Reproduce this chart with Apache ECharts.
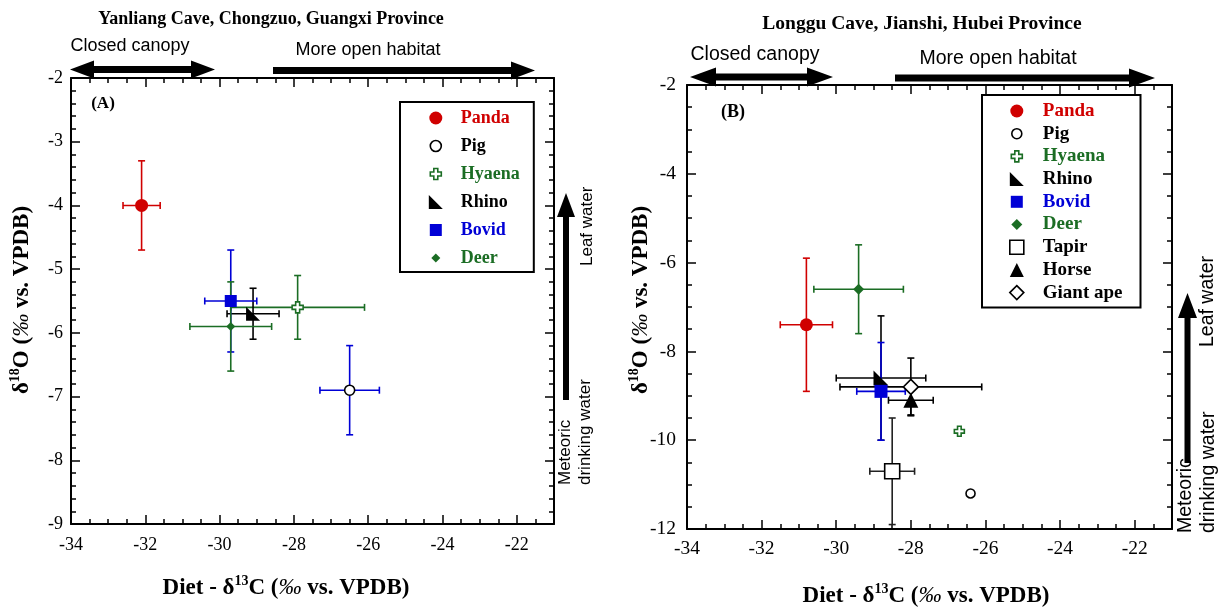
<!DOCTYPE html>
<html>
<head>
<meta charset="utf-8">
<script src="https://cdn.jsdelivr.net/npm/echarts@6/dist/echarts.min.js"></script>
<style>
html, body { margin: 0; padding: 0; background: #fff; }
#chart { width: 1219px; height: 609px; }
</style>
</head>
<body>
<div id="chart"></div>
<script>
// (A) Yanliang Cave
const animalsA = ['Panda', 'Pig', 'Hyaena', 'Rhino', 'Bovid', 'Deer'];
const d13cA = [-32.1, -26.5, -27.9, -29.1, -29.7, -29.7];
const d13cErrA = [0.5, 0.8, 1.8, 0.7, 0.7, 1.1];
const d18oA = [-4.0, -6.9, -5.6, -5.7, -5.5, -5.9];
const d18oErrA = [0.7, 0.7, 0.5, 0.4, 0.8, 0.7];

// (B) Longgu Cave
const animalsB = ['Panda', 'Pig', 'Hyaena', 'Rhino', 'Bovid', 'Deer', 'Tapir', 'Horse', 'Giant ape'];
const d13cB = [-30.8, -26.4, -26.7, -28.8, -28.8, -29.4, -28.5, -28.0, -28.0];
const d13cErrB = [0.7, 0, 0, 1.2, 0.65, 1.2, 0.6, 0.6, 1.9];
const d18oB = [-7.4, -11.2, -9.8, -8.6, -8.9, -6.6, -10.7, -9.1, -8.8];
const d18oErrB = [1.5, 0, 0, 1.4, 1.1, 1.0, 1.2, 0.33, 0.65];

// axis ranges
const xRange = [-34, -21];
const yRangeA = [-9, -2];
const yRangeB = [-12, -2];

const SERIF = '"Liberation Serif", "Times New Roman", serif';
const SANS = '"Liberation Sans", Arial, sans-serif';
const RED = '#d00000', GREEN = '#1b6d24', BLUE = '#0000d6', BLACK = '#000';

const CROSS = 'path://M3.2,0H6.8V3.2H10V6.8H6.8V10H3.2V6.8H0V3.2H3.2Z';
const RTRI = 'path://M0,0L0,10L10,10Z';

// legend icons in a 14x14 box (the two moves keep the box)
function icon(shape, s) {
    const c = 7, h = s / 2;
    let p = '';
    if (shape === 'circle') p = `M${c - h},${c}A${h},${h} 0 1,1 ${c + h},${c}A${h},${h} 0 1,1 ${c - h},${c}Z`;
    if (shape === 'rect') p = `M${c - h},${c - h}H${c + h}V${c + h}H${c - h}Z`;
    if (shape === 'diamond') p = `M${c},${c - h}L${c + h},${c}L${c},${c + h}L${c - h},${c}Z`;
    if (shape === 'triangle') p = `M${c},${c - h}L${c + h},${c + h}L${c - h},${c + h}Z`;
    if (shape === 'rtri') p = `M${c - h},${c - h}L${c - h},${c + h}L${c + h},${c + h}Z`;
    if (shape === 'cross') {
        const a = s * 0.18;
        p = `M${c - a},${c - h}H${c + a}V${c - a}H${c + h}V${c + a}H${c + a}V${c + h}H${c - a}V${c + a}H${c - h}V${c - a}H${c - a}Z`;
    }
    return 'path://M0,0M14,14' + p;
}

const markA = {
    Panda:  { symbol: 'circle', size: 13, fill: RED, stroke: RED, err: RED, text: RED, lg: ['circle', 13] },
    Pig:    { symbol: 'circle', size: 10, fill: '#fff', stroke: BLACK, err: BLUE, text: BLACK, lg: ['circle', 11] },
    Hyaena: { symbol: CROSS, size: 11, fill: '#fff', stroke: GREEN, err: GREEN, text: GREEN, lg: ['cross', 11] },
    Rhino:  { symbol: RTRI, size: 14, fill: BLACK, stroke: BLACK, err: BLACK, text: BLACK, lg: ['rtri', 14] },
    Bovid:  { symbol: 'rect', size: 12, fill: BLUE, stroke: BLUE, err: BLUE, text: BLUE, lg: ['rect', 12] },
    Deer:   { symbol: 'diamond', size: 9, fill: GREEN, stroke: GREEN, err: GREEN, text: GREEN, lg: ['diamond', 9] }
};
const markB = {
    Panda:  { symbol: 'circle', size: 13, fill: RED, stroke: RED, err: RED, text: RED, lg: ['circle', 13] },
    Pig:    { symbol: 'circle', size: 9, fill: '#fff', stroke: BLACK, err: BLACK, text: BLACK, lg: ['circle', 10] },
    Hyaena: { symbol: CROSS, size: 10, fill: '#fff', stroke: GREEN, err: GREEN, text: GREEN, lg: ['cross', 11] },
    Rhino:  { symbol: RTRI, size: 15, fill: BLACK, stroke: BLACK, err: BLACK, text: BLACK, lg: ['rtri', 14] },
    Bovid:  { symbol: 'rect', size: 13, fill: BLUE, stroke: BLUE, err: BLUE, text: BLUE, lg: ['rect', 12] },
    Deer:   { symbol: 'diamond', size: 11, fill: GREEN, stroke: GREEN, err: GREEN, text: GREEN, lg: ['diamond', 11] },
    Tapir:  { symbol: 'rect', size: 15, fill: '#fff', stroke: BLACK, err: '#222', text: BLACK, lg: ['rect', 14] },
    Horse:  { symbol: 'triangle', size: 15, fill: BLACK, stroke: BLACK, err: BLACK, text: BLACK, lg: ['triangle', 14] },
    'Giant ape': { symbol: 'diamond', size: 15, fill: '#fff', stroke: BLACK, err: BLACK, text: BLACK, lg: ['diamond', 14] }
};

const chart = echarts.init(document.getElementById('chart'));

const axisLine = { show: true, onZero: false, lineStyle: { color: BLACK, width: 2 } };
const tickStyle = { color: BLACK, width: 1.5 };

function xAxes(grid, fontSize, margin) {
    const base = { gridIndex: grid, type: 'value', min: xRange[0], max: xRange[1], splitLine: { show: false } };
    const major = { show: true, inside: true, length: 9, lineStyle: tickStyle };
    const minor = { show: true, inside: true, length: 5, lineStyle: tickStyle };
    return [
        { ...base, position: 'bottom', interval: 2, axisLine, axisTick: major,
          axisLabel: { showMaxLabel: false, color: BLACK, fontFamily: SERIF, fontSize, margin } },
        { ...base, position: 'bottom', interval: 0.5, axisLine: { show: false }, axisTick: minor, axisLabel: { show: false } },
        { ...base, position: 'top', interval: 2, axisLine, axisTick: major, axisLabel: { show: false } },
        { ...base, position: 'top', interval: 0.5, axisLine: { show: false }, axisTick: minor, axisLabel: { show: false } }
    ];
}

function yAxes(grid, range, interval, split, fontSize, margin) {
    const base = {
        gridIndex: grid, type: 'value', min: range[0], max: range[1], interval,
        splitLine: { show: false }, axisLine,
        axisTick: { show: true, inside: true, length: 9, lineStyle: tickStyle },
        minorTick: { show: true, splitNumber: split, length: 5, lineStyle: tickStyle }
    };
    return [
        { ...base, position: 'left', axisLabel: { color: BLACK, fontFamily: SERIF, fontSize, margin } },
        { ...base, position: 'right', axisLabel: { show: false } }
    ];
}

function errorBars(name, x, y, ex, ey, color, xi, yi) {
    return {
        type: 'custom', name: name + ' error', xAxisIndex: xi, yAxisIndex: yi,
        data: [[x, y, ex, ey]], encode: { x: 0, y: 1 }, z: 2, silent: true, clip: false,
        renderItem: function (params, api) {
            const vx = api.value(0), vy = api.value(1), vex = api.value(2), vey = api.value(3);
            const st = { stroke: color, lineWidth: 1.6 };
            const cap = 3.5;
            const kids = [];
            if (vex > 0) {
                const l = api.coord([vx - vex, vy]), r = api.coord([vx + vex, vy]);
                kids.push({ type: 'line', shape: { x1: l[0], y1: l[1], x2: r[0], y2: r[1] }, style: st });
                kids.push({ type: 'line', shape: { x1: l[0], y1: l[1] - cap, x2: l[0], y2: l[1] + cap }, style: st });
                kids.push({ type: 'line', shape: { x1: r[0], y1: r[1] - cap, x2: r[0], y2: r[1] + cap }, style: st });
            }
            if (vey > 0) {
                const t = api.coord([vx, vy + vey]), b = api.coord([vx, vy - vey]);
                kids.push({ type: 'line', shape: { x1: t[0], y1: t[1], x2: b[0], y2: b[1] }, style: st });
                kids.push({ type: 'line', shape: { x1: t[0] - cap, y1: t[1], x2: t[0] + cap, y2: t[1] }, style: st });
                kids.push({ type: 'line', shape: { x1: b[0] - cap, y1: b[1], x2: b[0] + cap, y2: b[1] }, style: st });
            }
            return { type: 'group', children: kids };
        }
    };
}

function panelSeries(names, xs, xe, ys, ye, marks, xi, yi) {
    const bars = [], points = [];
    names.forEach((n, i) => {
        const m = marks[n];
        bars.push(errorBars(n, xs[i], ys[i], xe[i], ye[i], m.err, xi, yi));
        points.push({
            type: 'scatter', name: n, xAxisIndex: xi, yAxisIndex: yi, z: 3, silent: true,
            data: [[xs[i], ys[i]]],
            symbol: m.symbol, symbolSize: m.size,
            itemStyle: { color: m.fill, borderColor: m.stroke, borderWidth: m.fill === '#fff' ? 1.6 : 0, opacity: 1 }
        });
    });
    return bars.concat(points);
}

function legendFor(names, marks, left, top, padding, gap, fontSize, textPad) {
    return {
        orient: 'vertical', left, top, padding, itemGap: gap,
        itemWidth: 14, itemHeight: 14, selectedMode: false,
        borderColor: BLACK, borderWidth: 2, backgroundColor: '#fff',
        textStyle: { fontFamily: SERIF, fontWeight: 'bold', fontSize, lineHeight: 20, padding: [0, 0, 0, textPad] },
        data: names.map(n => ({
            name: n,
            icon: icon(marks[n].lg[0], marks[n].lg[1]),
            itemStyle: { color: marks[n].fill, borderColor: marks[n].stroke, borderWidth: marks[n].fill === '#fff' ? 1.6 : 0 },
            textStyle: { color: marks[n].text }
        }))
    };
}

// arrow shapes for the habitat / water annotations
function hArrow(x1, x2, y, both, hl, hw, t) {
    const pts = both
        ? [[x1, y], [x1 + hl, y - hw], [x1 + hl, y - t], [x2 - hl, y - t], [x2 - hl, y - hw], [x2, y],
           [x2 - hl, y + hw], [x2 - hl, y + t], [x1 + hl, y + t], [x1 + hl, y + hw]]
        : [[x1, y - t], [x2 - hl, y - t], [x2 - hl, y - hw], [x2, y], [x2 - hl, y + hw], [x2 - hl, y + t], [x1, y + t]];
    return { type: 'polygon', shape: { points: pts }, style: { fill: BLACK } };
}
function vArrow(x, yb, yt, hl, hw, t) {
    const pts = [[x - t, yb], [x - t, yt + hl], [x - hw, yt + hl], [x, yt], [x + hw, yt + hl], [x + t, yt + hl], [x + t, yb]];
    return { type: 'polygon', shape: { points: pts }, style: { fill: BLACK } };
}
function label(text, x, y, font) {
    return {
        type: 'text', x, y,
        style: { text, font, fill: BLACK, align: 'center', verticalAlign: 'middle',
                 textAlign: 'center', textVerticalAlign: 'middle' }
    };
}
function sideText(text, x, y, size) {
    return {
        type: 'text', x, y, rotation: Math.PI / 2,
        style: { text, fontFamily: SANS, fontSize: size, lineHeight: size + 3, fill: BLACK,
                 align: 'left', verticalAlign: 'middle', textAlign: 'left', textVerticalAlign: 'middle' }
    };
}
function axisName(sup, lead, x, y, size, rotate) {
    return {
        type: 'text', x, y, rotation: rotate ? Math.PI / 2 : 0,
        style: {
            text: `{b|${lead}}{s|${sup}}{b|${rotate ? 'O' : 'C'} (}{i|‰}{b| vs. VPDB)}`,
            align: 'center', verticalAlign: 'middle', textAlign: 'center', textVerticalAlign: 'middle',
            rich: {
                b: { fontFamily: SERIF, fontWeight: 'bold', fontSize: size, lineHeight: size + 4, color: BLACK },
                s: { fontFamily: SERIF, fontWeight: 'bold', fontSize: Math.round(size * 0.6), lineHeight: 14, verticalAlign: 'top', color: BLACK },
                i: { fontFamily: SERIF, fontStyle: 'italic', fontSize: size, lineHeight: size + 4, color: BLACK }
            }
        }
    };
}

const option = {
    animation: false,
    backgroundColor: '#fff',
    grid: [
        { left: 71, top: 78, width: 483, height: 446 },
        { left: 687, top: 85, width: 485, height: 444 }
    ],
    xAxis: xAxes(0, 18, 12).concat(xAxes(1, 19.5, 10)),
    yAxis: yAxes(0, yRangeA, 1, 5, 18, 8).concat(yAxes(1, yRangeB, 2, 4, 19.5, 11)),
    legend: [
        legendFor(animalsA, markA, 400, 102, [6, 14, 4, 28], 8, 18, 13),
        legendFor(animalsB, markB, 982, 95, [6, 18, 5, 27], 2.7, 19, 14)
    ],
    series: panelSeries(animalsA, d13cA, d13cErrA, d18oA, d18oErrA, markA, 0, 0)
        .concat(panelSeries(animalsB, d13cB, d13cErrB, d18oB, d18oErrB, markB, 4, 2)),
    graphic: [
        label('Yanliang Cave, Chongzuo, Guangxi Province', 271, 19, 'bold 18px ' + SERIF),
        label('Longgu Cave, Jianshi, Hubei Province', 922, 24, 'bold 19.5px ' + SERIF),
        label('Closed canopy', 130, 46, '18px ' + SANS),
        label('More open habitat', 368, 50, '18px ' + SANS),
        label('Closed canopy', 755, 55, '19.5px ' + SANS),
        label('More open habitat', 998, 59, '19.5px ' + SANS),
        hArrow(70, 215, 69.5, true, 24, 9, 3.5),
        hArrow(273, 535, 70.5, false, 24, 9, 3.5),
        hArrow(690, 833, 77, true, 26, 9.5, 3.5),
        hArrow(895, 1155, 78, false, 26, 9.5, 3.5),
        vArrow(566, 400, 193, 24, 9, 3),
        vArrow(1187.5, 463, 293, 25, 9.5, 3),
        sideText('Leaf water', 587, 266, 17),
        sideText('Meteoric\ndrinking water', 575, 485, 17),
        sideText('Leaf water', 1208, 347, 19.5),
        sideText('Meteoric\ndrinking water', 1197, 533, 19.5),
        label('(A)', 103, 104, 'bold 17px ' + SERIF),
        label('(B)', 733, 112, 'bold 18px ' + SERIF),
        axisName('13', 'Diet - δ', 286, 588, 23, false),
        axisName('13', 'Diet - δ', 926, 596, 23, false),
        axisName('18', 'δ', 22, 300, 23, true),
        axisName('18', 'δ', 641, 300, 23, true)
    ]
};

chart.setOption(option);
</script>
</body>
</html>
